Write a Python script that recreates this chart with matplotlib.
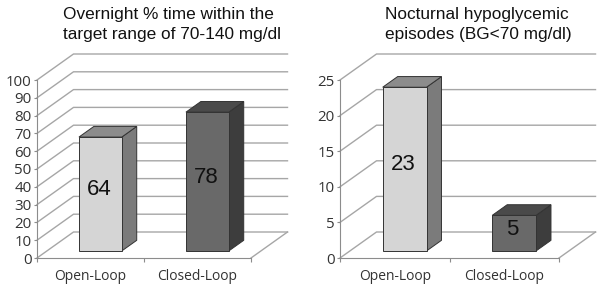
import matplotlib
matplotlib.use('Agg')
import matplotlib.pyplot as plt
from matplotlib.patches import Polygon

plt.rcParams['font.family'] = ['Liberation Sans', 'DejaVu Sans']

categories = ['Open-Loop', 'Closed-Loop']
time_in_range = [64, 78]
hypo_episodes = [23, 5]
ticks_left = [0, 10, 20, 30, 40, 50, 60, 70, 80, 90, 100]
ticks_right = [0, 5, 10, 15, 20, 25]

W, H = 604, 290
GRID = '#a6a6a6'
LIGHT = ('#d5d5d5', '#7b7b7b', '#8c8c8c')
DARK = ('#696969', '#3d3d3d', '#4a4a4a')


def chart(box, values, ticks, title, title_x):
    x0, x1 = box
    ax = fig.add_axes([x0 / W, (H - 258) / H, (x1 - x0) / W, 178 / H])
    ymax = ticks[-1]
    ax.set_xlim(0, 2)
    ax.set_ylim(0, ymax)
    ax.patch.set_visible(False)

    # oblique depth, 1 = back wall
    dx = 36.5 / (x1 - x0) * 2
    dy = 26 / 178 * ymax

    def pr(x, y, d):
        return x + d * dx, y + d * dy

    for t in ticks:
        ax.plot(*zip(pr(0, t, 0), pr(0, t, 1), pr(2, t, 1)), color=GRID, lw=1, clip_on=False, zorder=1)
    ax.plot(*zip(pr(2, 0, 0), pr(2, 0, 1)), color=GRID, lw=1, clip_on=False, zorder=1)

    for i, v in enumerate(values):
        front, side, top = LIGHT if i == 0 else DARK
        l, r = i + 0.3, i + 0.7
        d0, d1 = 0.27, 0.68
        ax.add_patch(Polygon([pr(r, 0, d0), pr(r, 0, d1), pr(r, v, d1), pr(r, v, d0)],
                             fc=side, ec='#333333', lw=0.7, clip_on=False, zorder=3))
        ax.add_patch(Polygon([pr(l, v, d0), pr(r, v, d0), pr(r, v, d1), pr(l, v, d1)],
                             fc=top, ec='#333333', lw=0.7, clip_on=False, zorder=3))
        ax.add_patch(Polygon([pr(l, 0, d0), pr(r, 0, d0), pr(r, v, d0), pr(l, v, d0)],
                             fc=front, ec='#333333', lw=0.7, clip_on=False, zorder=4))
        ax.annotate(str(v), pr(i + 0.5, v / 2, d0), xytext=(-1, 3), textcoords='offset points',
                    ha='center', va='center', fontsize=16, color='#111111', zorder=5)

    for s in ['top', 'right']:
        ax.spines[s].set_visible(False)
    for s in ['left', 'bottom']:
        ax.spines[s].set_color('#8c8c8c')
    ax.set_yticks(ticks)
    ax.set_xticks([0, 1, 2])
    ax.set_xticklabels([])
    ax.set_xticks([0.5, 1.5], minor=True)
    ax.set_xticklabels(categories, minor=True, family='Open Sans', fontsize=10, color='#333333')
    ax.tick_params(axis='x', which='major', length=3, color='#8c8c8c')
    ax.tick_params(axis='x', which='minor', length=0, pad=8)
    ax.tick_params(axis='y', length=2, color='#8c8c8c', pad=2, labelsize=10.8, labelcolor='#333333')
    for lab in ax.get_yticklabels():
        lab.set_family('Open Sans')
    fig.text(title_x / W, 1 - 7 / H, title, ha='left', va='top', fontsize=12.4,
             color='#111111', linespacing=1.42)


fig = plt.figure(figsize=(W / 100, H / 100), dpi=100)
chart((37, 251), time_in_range, ticks_left,
      'Overnight % time within the\ntarget range of 70-140 mg/dl', 63)
chart((340, 559), hypo_episodes, ticks_right,
      'Nocturnal hypoglycemic\nepisodes (BG<70 mg/dl)', 385)
fig.savefig('out.png', dpi=100)
